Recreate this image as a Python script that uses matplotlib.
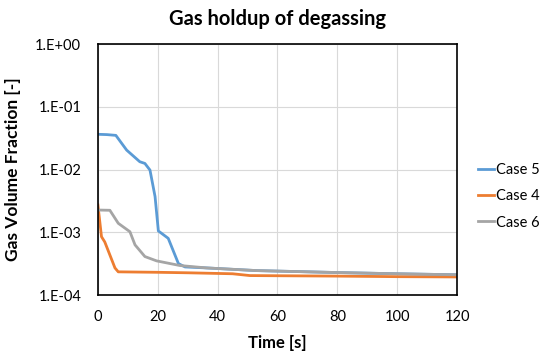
import math
import matplotlib
matplotlib.use('Agg')
import matplotlib.pyplot as plt
from matplotlib.ticker import FixedLocator, FuncFormatter

plt.rcParams['font.family'] = ['Lato', 'DejaVu Sans']

# Case 5 (blue)
t5 = [0, 3, 6, 9.6, 14, 15.7, 17.4, 19.1, 20.2, 23.5, 26.9, 29.1, 36.4, 53, 80, 100, 120]
v5 = [0.0364, 0.0360, 0.0350, 0.0204, 0.0133, 0.0125, 0.0098, 0.0037, 0.00105, 0.00080,
      0.000317, 0.00028, 0.00027, 0.000245, 0.000228, 0.000218, 0.00021]

# Case 4 (orange)
t4 = [0, 1.2, 2.3, 5.7, 6.8, 20, 30, 45, 50.8, 80, 100, 120]
v4 = [0.00272, 0.00085, 0.00070, 0.00027, 0.000234, 0.000230, 0.000226, 0.000218,
      0.000204, 0.000200, 0.000196, 0.000194]

# Case 6 (gray)
t6 = [0, 4, 6.8, 10.7, 12.4, 15.7, 19.6, 27.4, 36.4, 53, 80, 100, 120]
v6 = [0.00226, 0.00224, 0.00139, 0.00102, 0.00063, 0.00041, 0.00035, 0.000295,
      0.00027, 0.000245, 0.000228, 0.000218, 0.00021]

yticks = [1e-4, 1e-3, 1e-2, 1e-1, 1e0]

fig = plt.figure(figsize=(5.5, 3.55), dpi=100)
ax = fig.add_axes([0.178, 0.169, 0.653, 0.707])

ax.plot(t5, v5, color='#5B9BD5', lw=2, label='Case 5')
ax.plot(t4, v4, color='#ED7D31', lw=2, label='Case 4')
ax.plot(t6, v6, color='#A5A5A5', lw=2, label='Case 6')

ax.set_yscale('log')
ax.set_ylim(1e-4, 1)
ax.set_xlim(0, 120)
ax.set_xticks(range(0, 121, 20))
ax.yaxis.set_major_locator(FixedLocator(yticks))
ax.yaxis.set_minor_locator(FixedLocator([]))
ax.yaxis.set_major_formatter(FuncFormatter(lambda v, p: '1.E%+03d' % round(math.log10(v))))
ax.grid(True, color='#D9D9D9', lw=0.8)
ax.set_axisbelow(True)
ax.tick_params(axis='y', length=0, labelsize=10.5, pad=12, colors='#000000')
ax.tick_params(axis='x', length=0, labelsize=10.5, pad=11, colors='#000000')
for s in ax.spines.values():
    s.set_color('#000000')
    s.set_linewidth(1.2)

ax.set_title('Gas holdup of degassing', fontsize=14.5, fontweight='bold', pad=14)
ax.set_xlabel('Time [s]', fontsize=12, fontweight='bold', va='center')
ax.set_ylabel('Gas Volume Fraction [-]', fontsize=12.5, fontweight='bold', va='center')
ax.xaxis.set_label_coords(0.5, -0.19)
ax.yaxis.set_label_coords(-0.237, 0.5)

ax.legend(loc='center left', bbox_to_anchor=(1.058, 0.394), frameon=False, fontsize=10.5,
          handlelength=1.1, handletextpad=0.15, labelspacing=0.85,
          borderaxespad=0, borderpad=0)

fig.savefig('out.png', dpi=100)
